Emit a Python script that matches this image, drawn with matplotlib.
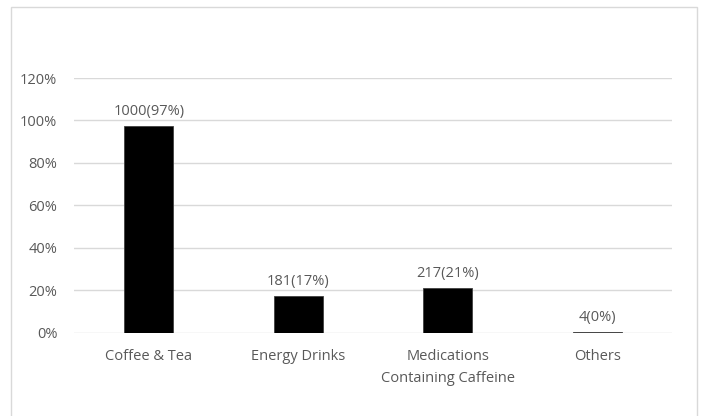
import matplotlib.pyplot as plt
from matplotlib.patches import Rectangle

categories = ['Coffee & Tea', 'Energy Drinks', 'Medications\nContaining Caffeine', 'Others']
counts = [1000, 181, 217, 4]
percents = [97.4, 17.3, 21.0, 0.4]
shown_pct = [97, 17, 21, 0]
yticks = [0, 20, 40, 60, 80, 100, 120]

plt.rcParams['font.family'] = ['Open Sans', 'DejaVu Sans']
grey = '#595959'
fs = 10.5

fig = plt.figure(figsize=(7.01, 4.16), dpi=100)
fig.patches.append(Rectangle((11/701, -0.01), 686/701, 1.01 - 7/416, transform=fig.transFigure,
                             fill=False, edgecolor='#d9d9d9', linewidth=1))
ax = fig.add_axes([74/701, 83.5/416, 598/701, 254.5/416])

x = range(len(categories))
ax.bar(x, percents, width=0.33, color='black', edgecolor='#404040', linewidth=0.6, zorder=3)
for i in x:
    ax.annotate(f'{counts[i]}({shown_pct[i]}%)', (i, percents[i]), xytext=(0, 5),
                textcoords='offset points', ha='center', va='bottom', fontsize=fs, color=grey)

ax.set_xlim(-0.5, len(categories) - 0.5)
ax.set_ylim(0, 120)
ax.set_yticks(yticks)
ax.set_yticklabels([f'{v}%' for v in yticks])
ax.set_xticks(list(x))
ax.set_xticklabels(categories, linespacing=1.6)
ax.grid(axis='y', color='#d9d9d9', linewidth=1, zorder=0)
for s in ax.spines.values():
    s.set_visible(False)
ax.tick_params(axis='both', length=0, labelsize=fs, labelcolor=grey)
ax.tick_params(axis='y', pad=12)
ax.tick_params(axis='x', pad=12)

fig.savefig('out.png', dpi=100)
